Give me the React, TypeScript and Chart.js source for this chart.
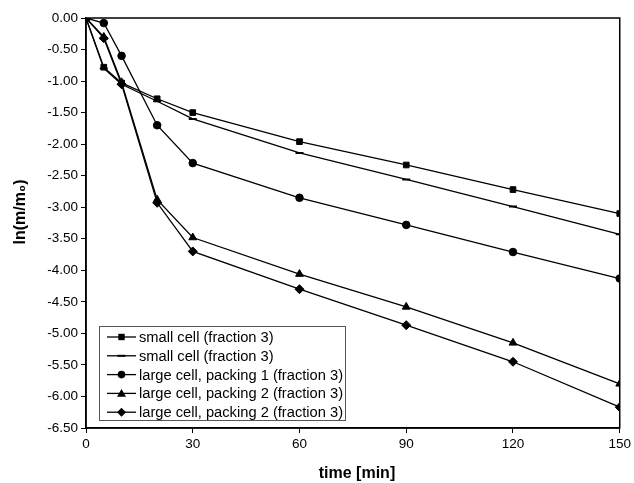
import React, { useEffect, useRef } from "react";
import { Chart, registerables } from "chart.js";

Chart.register(...registerables);

const times = [0, 5, 10, 20, 30, 60, 90, 120, 150];
const smallCellA = [0, -0.78, -1.03, -1.28, -1.5, -1.96, -2.33, -2.72, -3.1];
const smallCellB = [0, -0.8, -1.05, -1.32, -1.6, -2.14, -2.56, -2.99, -3.43];
const largePacking1 = [0, -0.08, -0.6, -1.7, -2.3, -2.85, -3.28, -3.71, -4.13];
const largePacking2a = [0, -0.3, -1.02, -2.88, -3.48, -4.06, -4.58, -5.15, -5.8];
const largePacking2b = [0, -0.32, -1.05, -2.93, -3.7, -4.3, -4.87, -5.45, -6.17];

const seriesLabels = [
  "small cell (fraction 3)",
  "small cell (fraction 3)",
  "large cell, packing 1 (fraction 3)",
  "large cell, packing 2 (fraction 3)",
  "large cell, packing 2 (fraction 3)",
];
const seriesValues = [smallCellA, smallCellB, largePacking1, largePacking2a, largePacking2b];
const seriesMarkers = ["rect", "line", "circle", "triangle", "rectRot"];
const seriesRadius = [4, 4, 3.8, 4.5, 4.5];

const xTitle = "time [min]";
const yTitle = "ln(m/m₀)";

const FONT = "'Liberation Sans', Arial, sans-serif";

function drawMarker(ctx: CanvasRenderingContext2D, style: string, x: number, y: number, r: number) {
  ctx.fillStyle = "#000";
  ctx.strokeStyle = "#000";
  ctx.beginPath();
  if (style === "rect") {
    ctx.fillRect(x - r * 0.8, y - r * 0.8, r * 1.6, r * 1.6);
  } else if (style === "line") {
    ctx.lineWidth = 2;
    ctx.moveTo(x - r, y);
    ctx.lineTo(x + r, y);
    ctx.stroke();
  } else if (style === "circle") {
    ctx.arc(x, y, r, 0, Math.PI * 2);
    ctx.fill();
  } else if (style === "triangle") {
    ctx.moveTo(x, y - r);
    ctx.lineTo(x + r, y + r * 0.75);
    ctx.lineTo(x - r, y + r * 0.75);
    ctx.closePath();
    ctx.fill();
  } else if (style === "rectRot") {
    ctx.moveTo(x, y - r);
    ctx.lineTo(x + r, y);
    ctx.lineTo(x, y + r);
    ctx.lineTo(x - r, y);
    ctx.closePath();
    ctx.fill();
  }
}

const frameAndLegend = {
  id: "frameAndLegend",
  afterDraw(chart: any) {
    const { ctx, chartArea } = chart;
    ctx.save();
    ctx.strokeStyle = "#000";
    ctx.lineWidth = 1.5;
    ctx.strokeRect(chartArea.left, chartArea.top, chartArea.right - chartArea.left, chartArea.bottom - chartArea.top);

    // axis titles
    ctx.fillStyle = "#000";
    ctx.font = `bold 16px ${FONT}`;
    ctx.textAlign = "center";
    ctx.textBaseline = "middle";
    ctx.fillText(xTitle, 357, 474);
    ctx.save();
    ctx.translate(21, 212);
    ctx.rotate(-Math.PI / 2);
    ctx.fillText(yTitle, 0, 0);
    ctx.restore();

    // legend
    const bx = chartArea.left + 13;
    const by = 326;
    const bw = 246;
    const bh = 94;
    ctx.fillStyle = "#fff";
    ctx.fillRect(bx, by, bw, bh);
    ctx.strokeStyle = "#555";
    ctx.lineWidth = 1;
    ctx.strokeRect(bx + 0.5, by + 0.5, bw, bh);
    ctx.font = `14.7px ${FONT}`;
    ctx.textAlign = "left";
    ctx.textBaseline = "middle";
    const rowH = 18.8;
    chart.data.datasets.forEach((ds: any, i: number) => {
      const y = by + 11 + i * rowH;
      const x0 = bx + 8;
      const x1 = x0 + 29;
      ctx.strokeStyle = "#000";
      ctx.lineWidth = 1.3;
      ctx.beginPath();
      ctx.moveTo(x0, y);
      ctx.lineTo(x1, y);
      ctx.stroke();
      drawMarker(ctx, ds.pointStyle, (x0 + x1) / 2, y, ds.pointRadius);
      ctx.fillStyle = "#000";
      ctx.fillText(ds.label, x1 + 3, y + 1);
    });
    ctx.restore();
  },
};

export default function App() {
  const ref = useRef<HTMLCanvasElement | null>(null);
  useEffect(() => {
    document.body.style.margin = "0";
    const canvas = ref.current!;
    const chart = new Chart(canvas, {
      type: "line",
      data: {
        datasets: seriesValues.map((vals, i) => ({
          label: seriesLabels[i],
          data: times.map((t, j) => ({ x: t, y: vals[j] })),
          borderColor: "#000",
          backgroundColor: "#000",
          borderWidth: 1.3,
          pointStyle: seriesMarkers[i] as any,
          pointRadius: seriesRadius[i],
          pointBorderWidth: seriesMarkers[i] === "line" ? 2 : 1,
          pointBackgroundColor: "#000",
          pointBorderColor: "#000",
          tension: 0,
          fill: false,
        })),
      },
      options: {
        animation: false,
        responsive: false,
        layout: { padding: { top: 18, right: 12, left: 0, bottom: 0 } },
        plugins: { legend: { display: false }, tooltip: { enabled: false } },
        scales: {
          x: {
            type: "linear",
            min: 0,
            max: 150,
            afterFit: (s: any) => {
              s.height = 55;
            },
            ticks: {
              stepSize: 30,
              color: "#000",
              font: { family: FONT, size: 13.5 },
              padding: 3,
            },
            grid: { drawOnChartArea: false, drawTicks: true, tickLength: 5, color: "#000" },
            border: { color: "#000", width: 1.5 },
          },
          y: {
            type: "linear",
            min: -6.5,
            max: 0,
            afterFit: (s: any) => {
              s.width = 86;
            },
            ticks: {
              stepSize: 0.5,
              color: "#000",
              font: { family: FONT, size: 13.5 },
              padding: 3,
              callback: (v: any) => Number(v).toFixed(2),
            },
            grid: { drawOnChartArea: false, drawTicks: true, tickLength: 5, color: "#000" },
            border: { color: "#000", width: 1.5 },
          },
        },
      },
      plugins: [frameAndLegend],
    });
    return () => chart.destroy();
  }, []);
  return (
    <div style={{ position: "relative", width: 634, height: 483 }}>
      <canvas ref={ref} width={634} height={483} style={{ display: "block" }} />
    </div>
  );
}
